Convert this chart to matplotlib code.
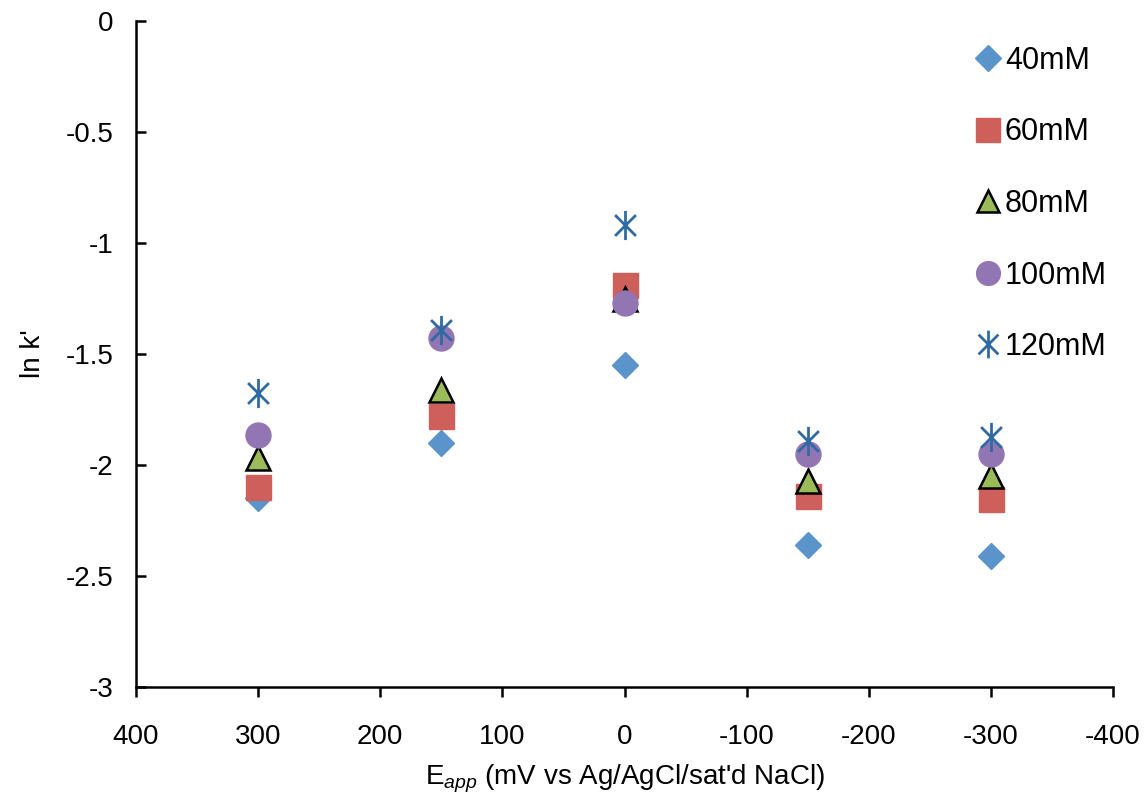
import matplotlib
matplotlib.use('Agg')
import matplotlib.pyplot as plt
from matplotlib.path import Path

plt.rcParams['font.family'] = ['Liberation Sans', 'DejaVu Sans']
plt.rcParams['mathtext.fontset'] = 'custom'
plt.rcParams['mathtext.rm'] = 'Liberation Sans'
plt.rcParams['mathtext.it'] = 'Liberation Sans:italic'

# applied potential (mV)
e_app = [300, 150, 0, -150, -300]

lnk_40 = [-2.15, -1.90, -1.55, -2.36, -2.41]
lnk_60 = [-2.10, -1.78, -1.19, -2.14, -2.155]
lnk_80 = [-1.97, -1.66, -1.25, -2.07, -2.05]
lnk_100 = [-1.865, -1.43, -1.27, -1.95, -1.95]
lnk_120 = [-1.675, -1.39, -0.92, -1.89, -1.875]

labels = ['40mM', '60mM', '80mM', '100mM', '120mM']
x_ticks = [400, 300, 200, 100, 0, -100, -200, -300, -400]
y_ticks = [0, -0.5, -1, -1.5, -2, -2.5, -3]

# excel style asterisk: X plus a vertical bar
star = Path([(-1, -1), (1, 1), (-1, 1), (1, -1), (0, -1.4), (0, 1.4)],
            [Path.MOVETO, Path.LINETO, Path.MOVETO, Path.LINETO, Path.MOVETO, Path.LINETO])

fig = plt.figure(figsize=(11.46, 7.97), dpi=100)
ax = fig.add_axes([136 / 1146, 1 - 687 / 797, (1113 - 136) / 1146, (687 - 21) / 797])

ax.plot(e_app, lnk_40, ls='none', marker='D', ms=13.5, color='#5B93CB', mec='#5B93CB', label=labels[0])
ax.plot(e_app, lnk_60, ls='none', marker='s', ms=18, color='#CF5F5A', mec='#CF5F5A', label=labels[1])
ax.plot(e_app, lnk_80, ls='none', marker='^', ms=17, color='#9BBB59', mec='black', mew=1.8, label=labels[2])
ax.plot(e_app, lnk_100, ls='none', marker='o', ms=18, color='#9275B3', mec='#9275B3', label=labels[3])
ax.plot(e_app, lnk_120, ls='none', marker=star, ms=21, color='#2F6AA3', mew=2, label=labels[4])

ax.set_xlim(400, -400)
ax.set_ylim(-3, 0)
ax.set_xticks(x_ticks)
ax.set_xticklabels([str(v) for v in x_ticks])
ax.set_yticks(y_ticks)
ax.set_yticklabels(['0', '-0.5', '-1', '-1.5', '-2', '-2.5', '-3'])

for s in ['top', 'right']:
    ax.spines[s].set_visible(False)
for s in ['left', 'bottom']:
    ax.spines[s].set_linewidth(1.8)

ax.tick_params(axis='x', direction='out', length=7, width=1.8, labelsize=20, pad=20)
ax.tick_params(axis='y', direction='in', length=7, width=1.8, labelsize=20, pad=16)

ax.set_xlabel(r"E$_{app}$ (mV vs Ag/AgCl/sat'd NaCl)", fontsize=20, labelpad=9)
ax.set_ylabel("ln k'", fontsize=20, labelpad=14)

leg = ax.legend(loc='upper right', bbox_to_anchor=(1.022, 1.004), frameon=False, fontsize=22,
                labelspacing=1.36, handletextpad=0.05, handlelength=1.0, markerscale=0.95)

plt.savefig('out.png', dpi=100)
